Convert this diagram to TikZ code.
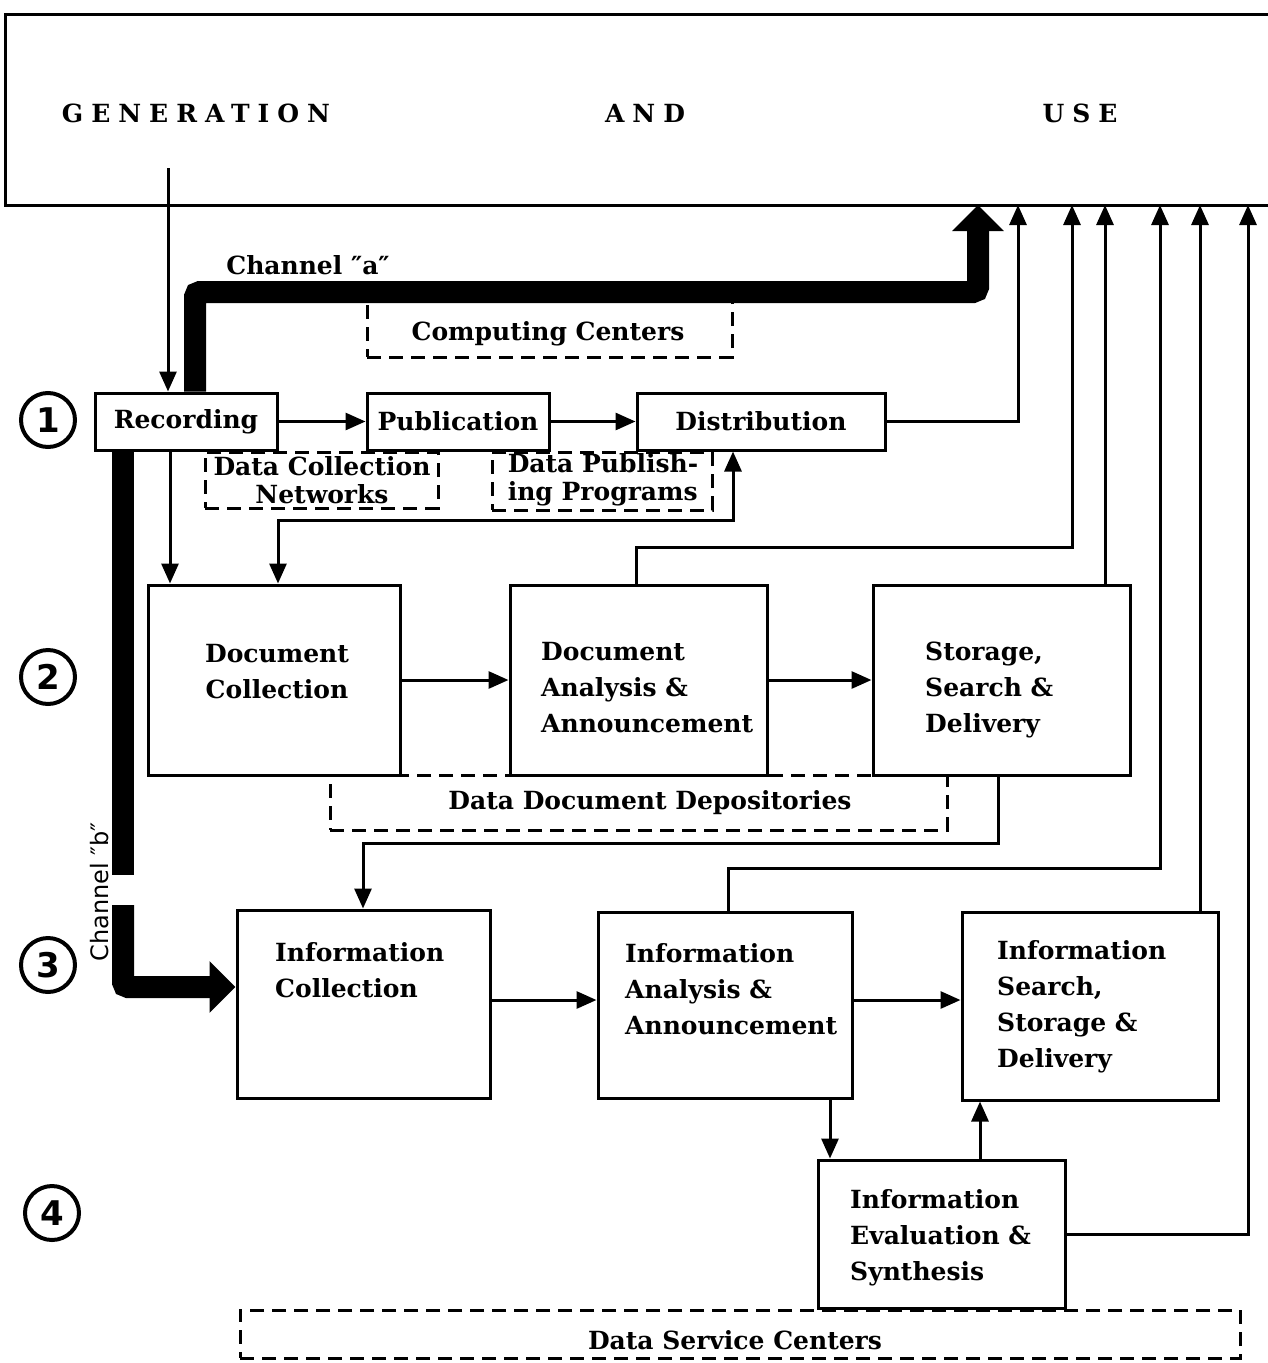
\documentclass[tikz,border=0pt]{standalone}
\usepackage{fontspec}
\setmainfont{DejaVu Serif}
\setsansfont{DejaVu Sans}
\usetikzlibrary{arrows.meta}

\tikzset{
  frame/.style={line width=3pt},
  box/.style={draw, line width=3pt, rectangle, inner sep=0pt},
  rowone/.style={box, font=\fontsize{25}{30}\selectfont\bfseries},
  boxtext/.style={font=\fontsize{25}{36}\selectfont\bfseries, align=left, inner sep=0pt},
  zone/.style={draw, line width=3pt, dash pattern=on 14pt off 8pt, inner sep=0pt},
  zonetext/.style={font=\fontsize{25}{28}\selectfont\bfseries, align=left, inner sep=0pt},
  conn/.style={line width=3pt, -{Triangle[length=20pt,width=17pt]}},
  twoway/.style={line width=3pt, {Triangle[length=20pt,width=17pt]}-{Triangle[length=20pt,width=17pt]}},
  channel/.style={line width=22pt, rounded corners=5pt},
  bigtip/.style={-{Triangle[length=26pt,width=50pt]}},
  stage/.style={draw, circle, line width=4pt, minimum size=54pt, inner sep=0pt,
    font=\sffamily\bfseries\fontsize{34}{34}\selectfont},
  heading/.style={inner sep=0pt, font=\fontsize{25}{25}\selectfont\bfseries\addfontfeature{LetterSpace=32}},
}

\begin{document}
\begin{tikzpicture}[x=1pt,y=-1pt]
\useasboundingbox (0,0) rectangle (1268,1363);

% open frame along the top
\draw[frame] (1268,14) -- (5,14) -- (5,205) -- (1268,205);
\node[heading] (gen) at (196,113) {GENERATION};
\node[heading] (and) at (645,113) {AND};
\node[heading] (use) at (1080,113) {USE};

% entry points on the frame
\coordinate (gsrc) at (168,168);
\coordinate (ua) at (978,205);
\coordinate (u2) at (1018,205);
\coordinate (u3) at (1072,205);
\coordinate (u4) at (1105,205);
\coordinate (u5) at (1160,205);
\coordinate (u6) at (1200,205);
\coordinate (u7) at (1248,205);

% stage numbers
\node[stage] (s1) at (48,420) {1};
\node[stage] (s2) at (48,677) {2};
\node[stage] (s3) at (48,965) {3};
\node[stage] (s4) at (52,1213) {4};

% dashed service zones
\node[zone, minimum width=365pt, minimum height=57pt] (cc) at (549.5,328.5) {};
\node[zonetext] (cct) at (548,334) {Computing Centers};
\node[zone, minimum width=233pt, minimum height=56pt] (dcn) at (321.5,480) {};
\node[zonetext, align=center] (dcnt) at (322,480) {Data Collection\\Networks};
\node[zone, minimum width=220pt, minimum height=58pt] (dpp) at (602,481) {};
\node[zonetext] (dppt) at (603,480) {Data Publish-\\ing Programs};
\node[zone, minimum width=617pt, minimum height=55pt] (ddd) at (638.5,802.5) {};
\node[zonetext] (dddt) at (650,803) {Data Document Depositories};
\node[zone, minimum width=1000pt, minimum height=48pt] (dsc) at (740,1334) {};
\node[zonetext] (dsct) at (735,1340) {Data Service Centers};

% stage 1
\node[rowone, minimum width=182pt, minimum height=57pt] (rec) at (186,421.5) {Recording};
\node[rowone, minimum width=182pt, minimum height=57pt] (pub) at (458,421.5) {Publication};
\node[rowone, minimum width=248pt, minimum height=57pt] (dist) at (761,421.5) {Distribution};

% stage 2
\node[box, minimum width=252pt, minimum height=190pt] (dc) at (274,680) {};
\node[boxtext, align=center] (dct) at (277,672) {Document\\Collection};
\node[box, minimum width=257pt, minimum height=190pt] (daa) at (638.5,680) {};
\node[boxtext, anchor=west] (daat) at (541,688) {Document\\Analysis \&\\Announcement};
\node[box, minimum width=257pt, minimum height=190pt] (ssd) at (1001.5,680) {};
\node[boxtext, anchor=west] (ssdt) at (925,690) {Storage,\\Search \&\\Delivery};

% stage 3
\node[box, minimum width=253pt, minimum height=188pt] (ic) at (363.5,1004) {};
\node[boxtext, anchor=west] (ict) at (275,970) {Information\\Collection};
\node[box, minimum width=254pt, minimum height=186pt] (iaa) at (725,1005) {};
\node[boxtext, anchor=west] (iaat) at (625,989) {Information\\Analysis \&\\Announcement};
\node[box, minimum width=256pt, minimum height=188pt] (issd) at (1090,1006) {};
\node[boxtext, anchor=west] (issdt) at (997,1007) {Information\\Search,\\Storage \&\\Delivery};

% stage 4
\node[box, minimum width=247pt, minimum height=148pt] (ies) at (941.5,1234) {};
\node[boxtext, anchor=west] (iest) at (850,1238) {Information\\Evaluation \&\\Synthesis};

% channel labels
\node[inner sep=0pt, font=\fontsize{25}{25}\selectfont\bfseries] (cha) at (308,265) {Channel ″a″};
\node[inner sep=0pt, rotate=90, font=\sffamily\fontsize{24}{24}\selectfont] (chb) at (100,892) {Channel ″b″};

% thin connectors
\draw[conn] (gsrc) -- (gsrc |- rec.north);
\draw[conn] (rec.east) -- (pub.west);
\draw[conn] (pub.east) -- (dist.west);
\draw[conn] (dist.east) -| (u2);
\draw[conn] (170,0 |- rec.south) -- (170,0 |- dc.north);
\draw[twoway] (733,0 |- dist.south) -- (733,520) -| (278,0 |- dc.north);
\draw[conn] (dc.east) -- (daa.west);
\draw[conn] (daa.east) -- (ssd.west);
\draw[conn] (636,0 |- daa.north) |- (1072,547) -- (u3);
\draw[conn] (u4 |- ssd.north) -- (u4);
\draw[conn] (998,0 |- ssd.south) |- (363,843) -- (363,0 |- ic.north);
\draw[conn] (728,0 |- iaa.north) |- (1160,868) -- (u5);
\draw[conn] (u6 |- issd.north) -- (u6);
\draw[conn] (ies.east) -| (u7);
\draw[conn] (ic.east |- 0,1000) -- (iaa.west |- 0,1000);
\draw[conn] (iaa.east |- 0,1000) -- (issd.west |- 0,1000);
\draw[conn] (830,0 |- iaa.south) -- (830,0 |- ies.north);
\draw[conn] (980,0 |- ies.north) -- (980,0 |- issd.south);

% broad channels
\draw[channel, bigtip] (195,0 |- rec.north) -- (195,292) -- (978,292) -- (ua);
\draw[channel] (123,0 |- rec.south) -- (123,875);
\draw[channel, bigtip] (123,905) -- (123,987) -- (ic.west |- 0,987);
\end{tikzpicture}
\end{document}
